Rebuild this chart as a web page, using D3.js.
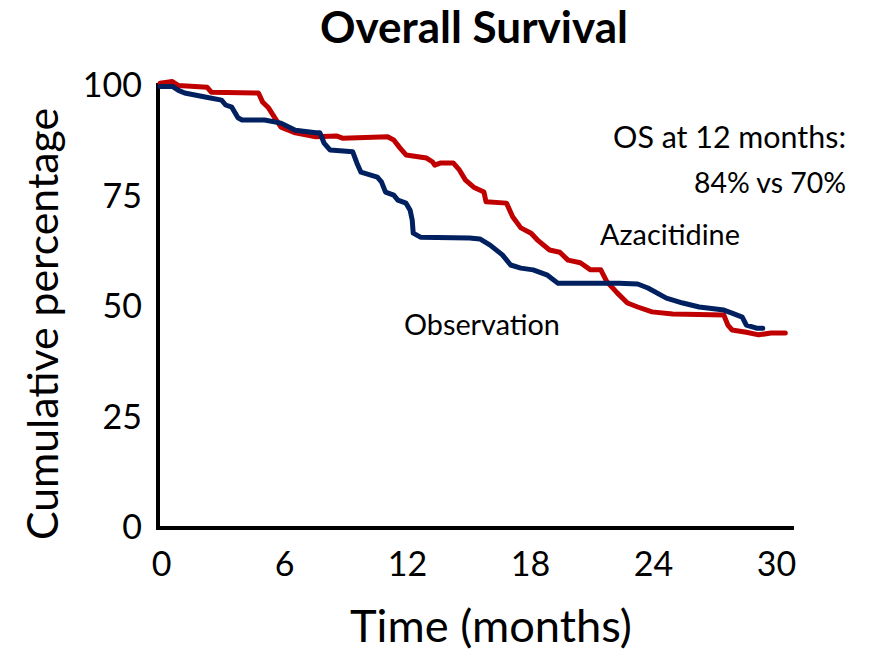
<!DOCTYPE html>
<html>
<head>
<meta charset="utf-8">
<script src="https://cdn.jsdelivr.net/npm/d3@7"></script>
<style>
  html, body { margin: 0; padding: 0; background: #fff; }
  svg { display: block; }
  text { font-family: Lato, "Open Sans", sans-serif; fill: #000; }
</style>
</head>
<body>
<svg id="chart" width="884" height="654"></svg>
<script>
// ---- Data ----
const xTicks = [0, 6, 12, 18, 24, 30];
const yTicks = [0, 25, 50, 75, 100];

const azaMonths = [0.1, 0.7, 1.0, 2.4, 2.6, 4.9, 5.1, 5.4, 5.7, 6.0, 6.7, 7.7, 8.7, 9.0, 11.2, 11.5, 11.8, 12.1, 13.1, 13.4, 13.5, 13.8, 14.4, 14.7, 15.0, 15.4, 15.9, 16.0, 17.0, 17.3, 17.7, 18.2, 18.5, 19.1, 19.6, 20.0, 20.6, 21.1, 21.6, 21.9, 22.4, 22.9, 23.4, 24.1, 25.1, 27.6, 27.8, 28.0, 28.7, 29.3, 29.9, 30.6];
const azaSurvival = [100.6, 101.0, 100.1, 99.7, 98.6, 98.4, 96.4, 95.0, 92.8, 90.7, 89.4, 88.5, 88.7, 88.2, 88.5, 87.8, 86.0, 84.4, 83.7, 82.8, 82.1, 82.6, 82.6, 81.0, 78.7, 77.1, 76.0, 73.8, 73.5, 70.4, 67.9, 66.7, 65.2, 62.9, 62.4, 60.6, 60.0, 58.4, 58.4, 55.7, 53.2, 50.9, 50.0, 48.9, 48.4, 48.2, 45.9, 44.8, 44.3, 43.7, 44.1, 44.1];

const obsMonths = [0.1, 0.7, 1.0, 1.3, 2.3, 3.1, 3.3, 3.6, 3.9, 4.1, 5.2, 6.0, 6.7, 7.7, 7.9, 8.1, 8.4, 9.5, 9.7, 9.9, 10.7, 10.9, 11.1, 11.5, 11.7, 12.1, 12.3, 12.4, 12.45, 12.8, 15.2, 15.7, 16.2, 16.8, 17.2, 17.7, 18.3, 19.0, 19.5, 22.5, 23.4, 23.9, 24.8, 25.6, 26.4, 27.6, 28.0, 28.5, 28.7, 29.2, 29.5];
const obsSurvival = [99.9, 99.9, 99.0, 98.4, 97.5, 96.8, 95.7, 95.2, 92.8, 92.3, 92.3, 91.6, 90.0, 89.4, 89.4, 87.1, 85.5, 85.1, 82.6, 80.5, 79.4, 78.3, 76.0, 75.3, 74.2, 73.5, 71.9, 69.7, 66.7, 65.8, 65.6, 65.4, 64.0, 61.8, 59.5, 58.8, 58.4, 57.2, 55.4, 55.4, 55.2, 54.3, 52.0, 50.9, 50.0, 49.3, 48.6, 47.7, 45.9, 45.2, 45.2];

const seriesNames = ["Azacitidine", "Observation"];
const seriesColors = ["#C00000", "#002060"];

// ---- Layout ----
const svg = d3.select("#chart");
const x = d3.scaleLinear().domain([0, 31]).range([158, 158 + 31 * 20.5]);
const y = d3.scaleLinear().domain([0, 100]).range([528, 86]);

// helper: fit text to a target width by adjusting font size
function fit(sel, width) {
  const node = sel.node();
  const fs = parseFloat(sel.attr("font-size"));
  const w = node.getComputedTextLength();
  if (w > 0) sel.attr("font-size", (fs * width / w).toFixed(2));
  return sel;
}

// Title
fit(svg.append("text")
  .attr("x", 474).attr("y", 43)
  .attr("text-anchor", "middle")
  .attr("font-size", 32).attr("font-weight", "bold")
  .text("Overall Survival"), 308);

// Axes
const xAxis = d3.axisBottom(x).tickValues(xTicks).tickSize(0).tickPadding(24).tickSizeOuter(0);
const yAxis = d3.axisLeft(y).tickValues(yTicks).tickSize(0).tickPadding(16).tickSizeOuter(0);

const gx = svg.append("g").attr("transform", `translate(0,${y(0)})`).call(xAxis);
const gy = svg.append("g").attr("transform", `translate(${x(0)},0)`).call(yAxis);

gx.select(".domain").remove();
gy.select(".domain").remove();
[gx, gy].forEach(g => g.selectAll("text")
  .attr("font-size", 34)
  .style("font-family", "Lato, 'Open Sans', sans-serif")
  .attr("fill", "#000"));
gx.selectAll(".tick text").attr("dx", 3);

// axis lines
svg.append("line")
  .attr("x1", x(0)).attr("x2", x(0))
  .attr("y1", y(100) - 3).attr("y2", y(0) + 2)
  .attr("stroke", "#000").attr("stroke-width", 4);
svg.append("line")
  .attr("x1", x(0) - 2).attr("x2", 794)
  .attr("y1", y(0)).attr("y2", y(0))
  .attr("stroke", "#000").attr("stroke-width", 4);

// Axis titles
fit(svg.append("text")
  .attr("transform", "translate(58,324) rotate(-90)")
  .attr("text-anchor", "middle")
  .attr("font-size", 38)
  .text("Cumulative percentage"), 432);

fit(svg.append("text")
  .attr("x", 491).attr("y", 642)
  .attr("text-anchor", "middle")
  .attr("font-size", 38)
  .text("Time (months)"), 282);

// Curves
const line = d3.line().x(d => x(d[0])).y(d => y(d[1]));
const azaData = azaMonths.map((m, i) => [m, azaSurvival[i]]);
const obsData = obsMonths.map((m, i) => [m, obsSurvival[i]]);

svg.append("path").datum(azaData)
  .attr("d", line).attr("fill", "none")
  .attr("stroke", seriesColors[0]).attr("stroke-width", 5)
  .attr("stroke-linejoin", "round").attr("stroke-linecap", "round");
svg.append("path").datum(obsData)
  .attr("d", line).attr("fill", "none")
  .attr("stroke", seriesColors[1]).attr("stroke-width", 5)
  .attr("stroke-linejoin", "round").attr("stroke-linecap", "round");

// Annotations
fit(svg.append("text")
  .attr("x", 846).attr("y", 148)
  .attr("text-anchor", "end").attr("font-size", 26)
  .text("OS at 12 months:"), 233);
fit(svg.append("text")
  .attr("x", 846).attr("y", 193)
  .attr("text-anchor", "end").attr("font-size", 26)
  .text("84% vs 70%"), 152);

fit(svg.append("text")
  .attr("x", 600).attr("y", 245)
  .attr("font-size", 22)
  .text(seriesNames[0]), 140);
fit(svg.append("text")
  .attr("x", 404).attr("y", 335)
  .attr("font-size", 22)
  .text(seriesNames[1]), 156);
</script>
</body>
</html>
